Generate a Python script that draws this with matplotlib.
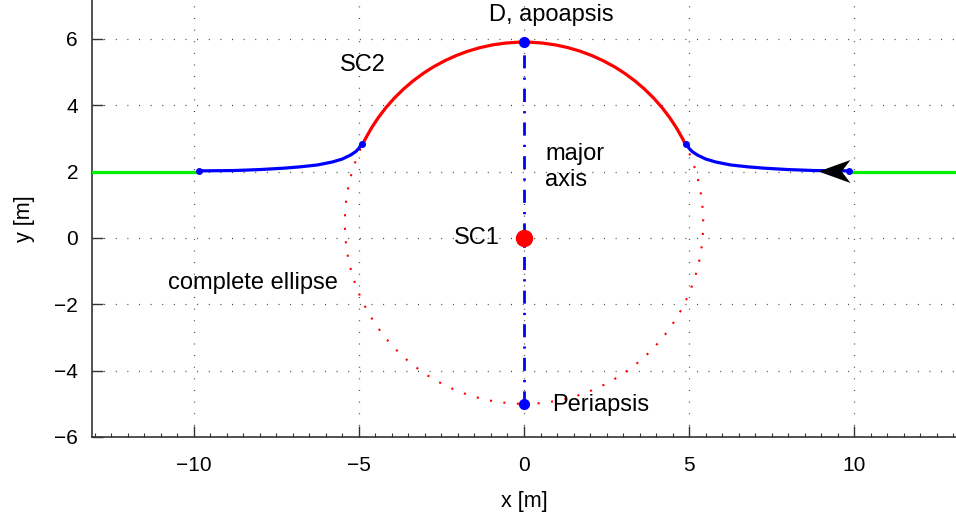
import matplotlib
matplotlib.use("Agg")
import matplotlib.pyplot as plt
from matplotlib.patches import Ellipse, Arc
from matplotlib.path import Path
from matplotlib.ticker import MultipleLocator

# ---- data ----
apoapsis_y = 5.9
periapsis_y = -5.0
ellipse_halfwidth = 5.43
arc_junction_deg = 25.6          # polar angle (from ellipse centre) where red arc meets blue curves
sc1 = (0.0, 0.0)

# right-hand blue approach curve (mirrored on the left)
blue_x_right = [4.92, 5.0, 5.1, 5.25, 5.5, 5.8, 6.25, 6.8, 7.3, 8.0, 8.8, 9.85]
blue_y_right = [2.84, 2.70, 2.60, 2.50, 2.38, 2.29, 2.20, 2.14, 2.10, 2.06, 2.03, 2.02]
blue_x_left = [-v for v in blue_x_right]
blue_y_left = list(blue_y_right)

green_left_x = [-13.5, -9.85]
green_right_x = [9.85, 13.5]
green_y = [2.0, 2.0]

arrow_pos = (9.39, 2.02)

xticks = [-10, -5, 0, 5, 10]
yticks = [-6, -4, -2, 0, 2, 4, 6]
xlim = (-13.09, 13.09)
ylim = (-6.0, 7.17)

# ---- figure ----
fig = plt.figure(figsize=(9.56, 5.21), dpi=100)
ax = fig.add_axes([92/956, 84/521, 864/956, 437/521])
ax.set_xlim(*xlim)
ax.set_ylim(*ylim)

centre_y = (apoapsis_y + periapsis_y) / 2
semi_major = (apoapsis_y - periapsis_y) / 2

# dotted complete ellipse
ell = Ellipse((0, centre_y), 2*ellipse_halfwidth, 2*semi_major, fill=False,
              edgecolor='red', linewidth=1.5, linestyle=(0, (1, 5.5)), zorder=2)
ax.add_patch(ell)

# red arc (upper part of the ellipse)
arc = Arc((0, centre_y), 2*ellipse_halfwidth, 2*semi_major,
          theta1=arc_junction_deg, theta2=180 - arc_junction_deg,
          edgecolor='red', linewidth=2.3, zorder=3)
ax.add_patch(arc)

# green straight segments
ax.plot(green_left_x, green_y, color='#00ee00', lw=2.3, zorder=3, solid_capstyle='butt')
ax.plot(green_right_x, green_y, color='#00ee00', lw=2.3, zorder=3, solid_capstyle='butt')

# blue approach curves
ax.plot(blue_x_right, blue_y_right, color='blue', lw=2.3, zorder=4)
ax.plot(blue_x_left, blue_y_left, color='blue', lw=2.3, zorder=4)
for xs, ys in ((blue_x_right, blue_y_right), (blue_x_left, blue_y_left)):
    ax.plot([xs[0], xs[-1]], [ys[0], ys[-1]], 'o', color='blue', ms=4, zorder=5)

# major axis
ax.plot([0, 0], [periapsis_y, apoapsis_y], color='blue', lw=2,
        linestyle=(0, (4.7, 3.3, 0.8, 3.3)), zorder=4)
ax.plot([0, 0], [apoapsis_y, periapsis_y], 'o', color='blue', ms=7, zorder=6)

# SC1
ax.plot([sc1[0]], [sc1[1]], 'o', color='red', ms=11.5, zorder=6)

# arrowhead (concave "stealth" marker pointing left)
stealth = Path([(-1, 0), (1, 0.72), (0.45, 0), (1, -0.72), (-1, 0)],
               [Path.MOVETO, Path.LINETO, Path.LINETO, Path.LINETO, Path.CLOSEPOLY])
ax.plot([arrow_pos[0]], [arrow_pos[1]], marker=stealth, color='black',
        ms=23, mew=0, zorder=7)

# texts
tfont = dict(family=['Liberation Sans', 'DejaVu Sans'], fontsize=17)
ax.text(-1.06, 6.72, 'D, apoapsis', ha='left', va='center', **tfont)
ax.text(-5.58, 5.21, 'SC2', ha='left', va='center', **tfont)
ax.text(0.64, 2.14, 'major\naxis', ha='left', va='center', linespacing=1.27, **tfont)
ax.text(-0.73, 0.0, 'SC1', ha='right', va='center', **tfont)
ax.text(-10.79, -1.36, 'complete ellipse', ha='left', va='center', **tfont)
ax.text(0.84, -5.03, 'Periapsis', ha='left', va='center', **tfont)

# axes styling
ax.set_xticks(xticks)
ax.set_yticks(yticks)
ax.set_xticklabels([('\u2212' if v < 0 else '') + str(abs(v)) for v in xticks])
ax.set_yticklabels([('\u2212' if v < 0 else '') + str(abs(v)) for v in yticks])
ax.xaxis.set_minor_locator(MultipleLocator(0.5))
ax.tick_params(axis='both', which='major', direction='in', length=8, width=1,
               color='#333333', labelsize=15)
ax.tick_params(axis='x', which='major', pad=14)
ax.tick_params(axis='y', which='major', pad=10)
ax.tick_params(axis='x', which='minor', direction='in', length=3, width=0.8, color='#333333')
for lab in ax.get_xticklabels() + ax.get_yticklabels():
    lab.set_family(['Liberation Sans', 'DejaVu Sans'])

for s in ('top', 'right'):
    ax.spines[s].set_visible(False)
for s in ('left', 'bottom'):
    ax.spines[s].set_color('#333333')
    ax.spines[s].set_linewidth(1.2)

ax.grid(True, which='major', color='#444444', linewidth=0.9,
        linestyle=(0, (0.8, 8.5)))
ax.set_axisbelow(True)

ax.set_xlabel('x [m]', family=['Liberation Sans', 'DejaVu Sans'], fontsize=15.5, labelpad=11)
ax.set_ylabel('y [m]', family=['Liberation Sans', 'DejaVu Sans'], fontsize=15.5, labelpad=14)

fig.savefig('out.png', dpi=100)
